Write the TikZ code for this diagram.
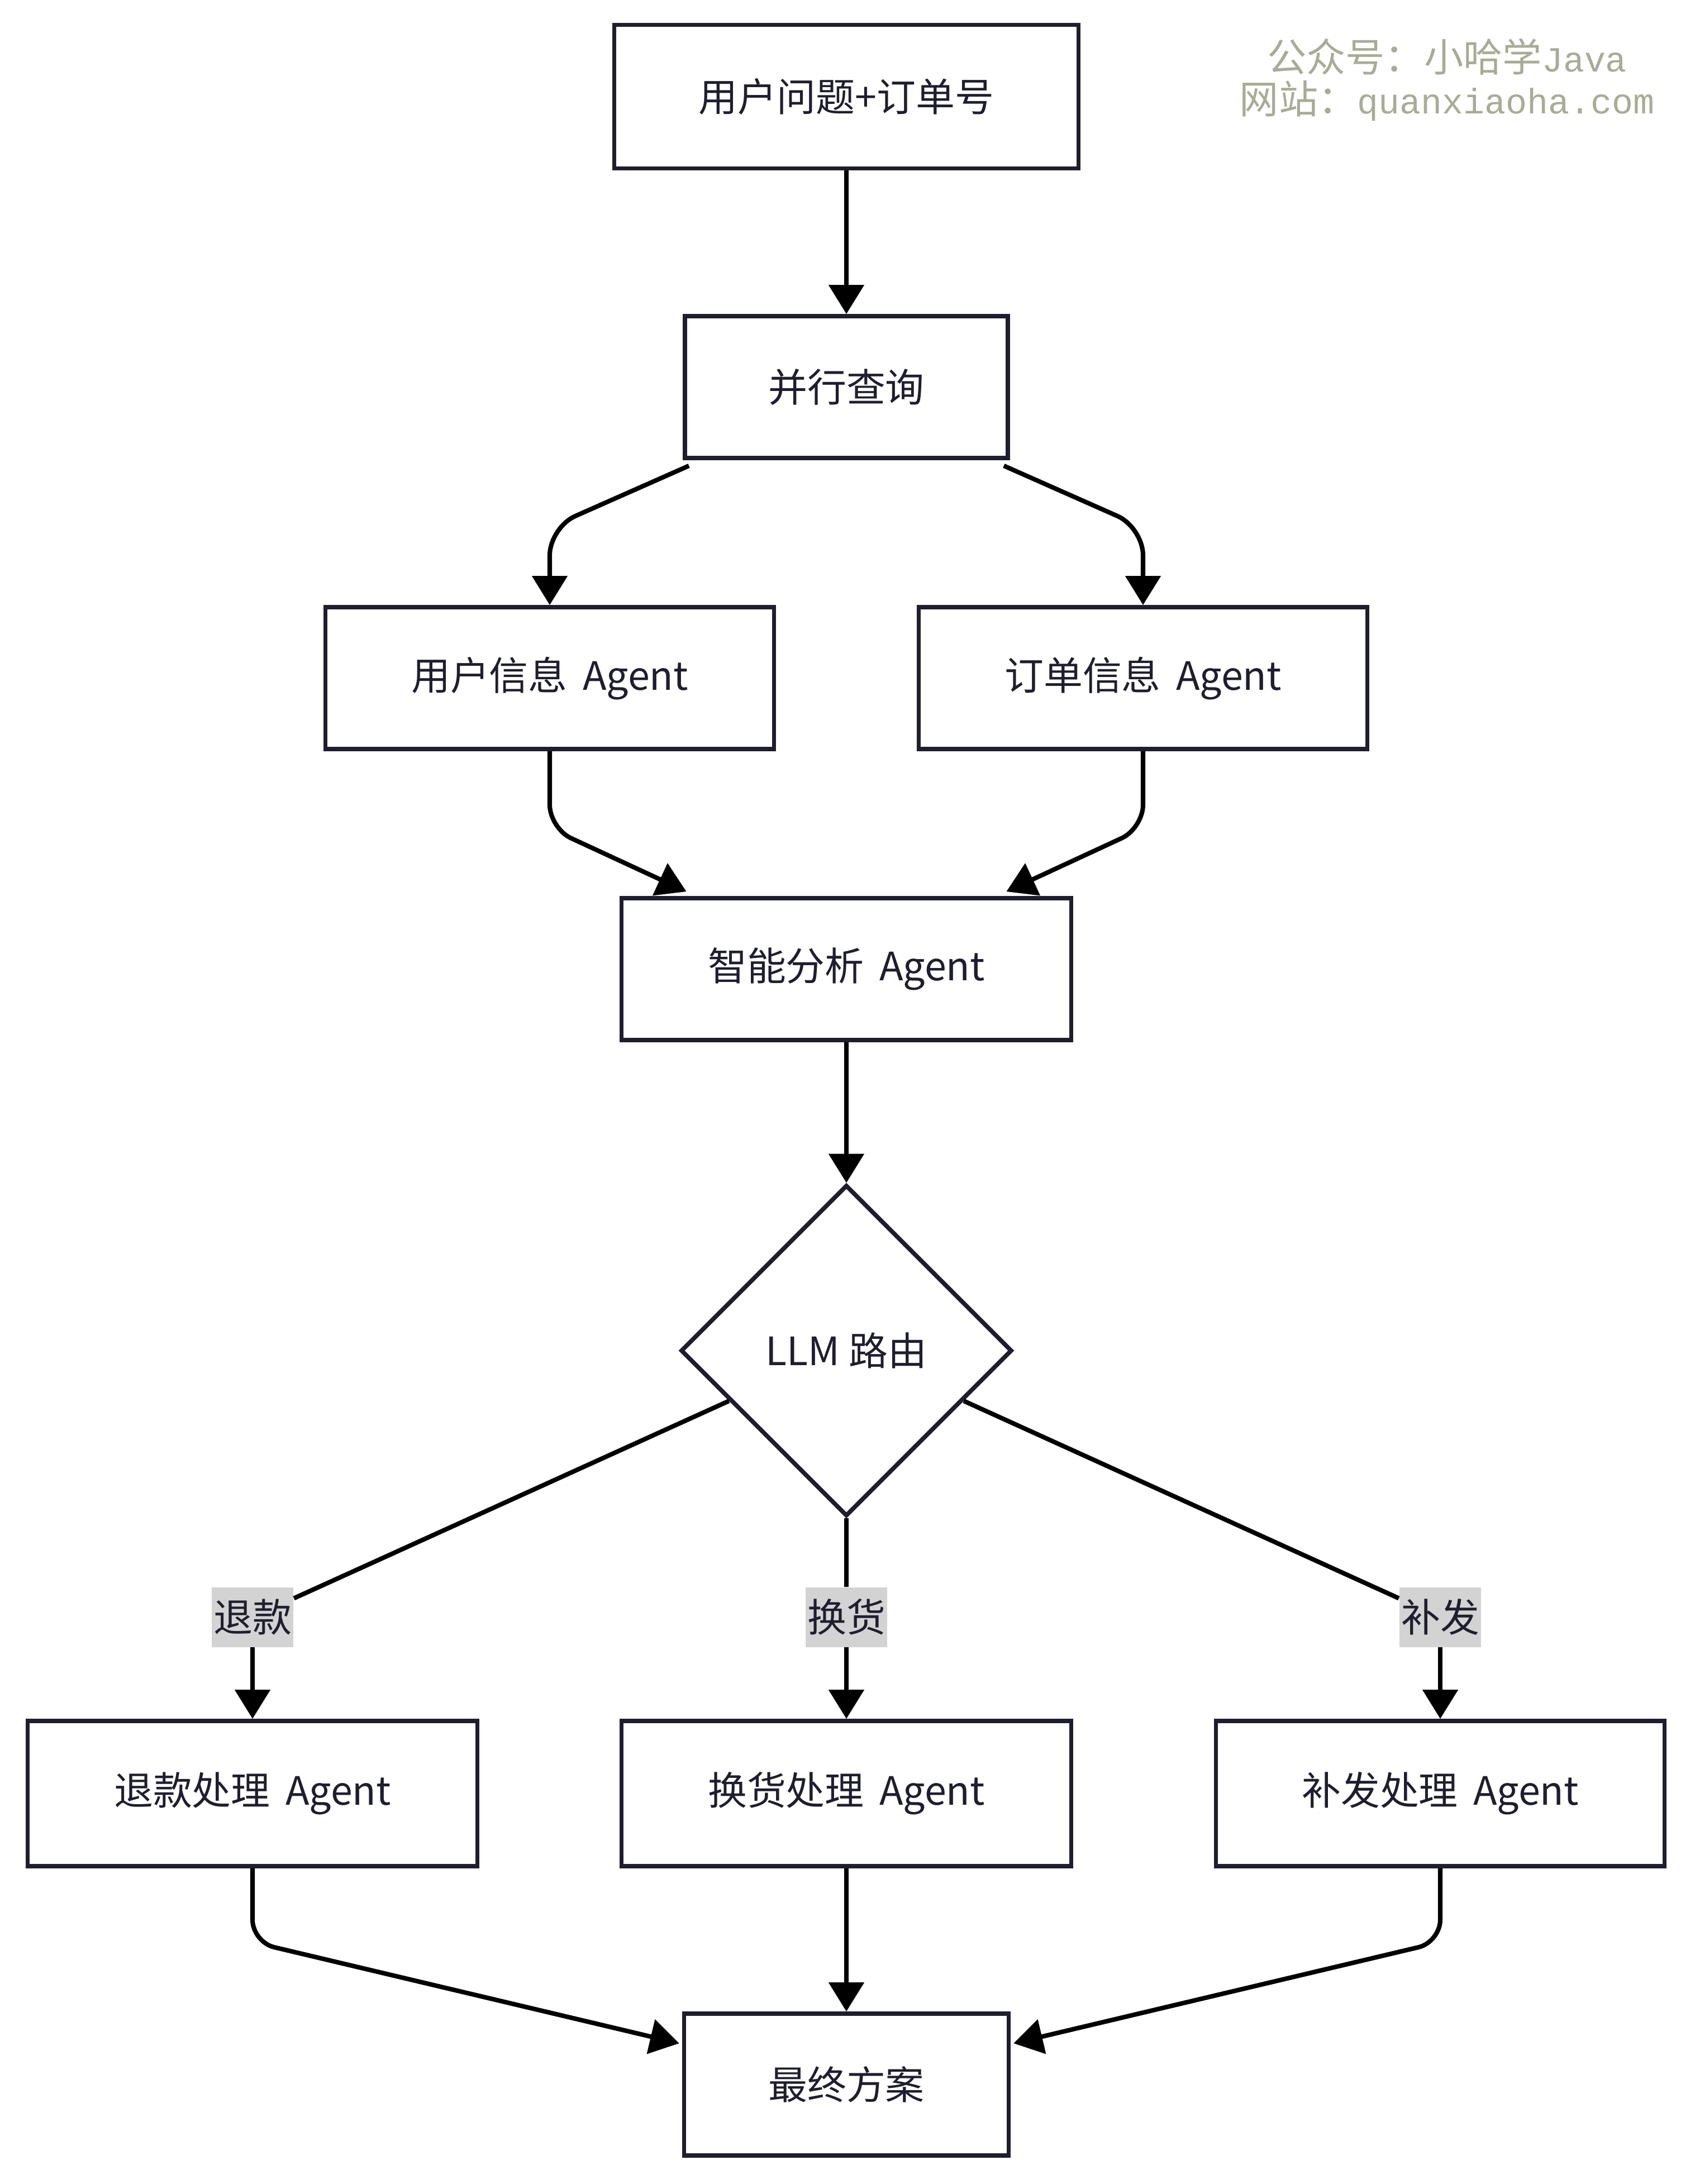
\documentclass[tikz,border=0pt]{standalone}
\usepackage{fontspec}
\setmainfont{Noto Sans CJK SC}
\newfontfamily\wmcjk{Noto Sans CJK SC}
\newfontfamily\wmlat{Liberation Mono}
\usetikzlibrary{arrows.meta,shapes.geometric,calc}

\definecolor{ink}{RGB}{30,30,46}
\definecolor{lblgray}{RGB}{211,211,211}
\definecolor{wmgray}{RGB}{168,172,150}

\begin{document}
\begin{tikzpicture}[
    >={Triangle[width=0.62cm,length=0.52cm]},
    font=\fontsize{19.9pt}{23pt}\selectfont,
    caja/.style={draw=ink, line width=2.2pt, fill=white, text=ink, minimum height=2.54cm, inner sep=0pt},
    rombo/.style={diamond, aspect=1, draw=ink, line width=2.2pt, fill=white, text=ink, minimum width=5.93cm, minimum height=5.93cm, inner sep=0pt},
    rama/.style={fill=lblgray, text=ink, inner xsep=1pt, inner ysep=0pt, minimum height=1.07cm},
    flecha/.style={->, line width=2.3pt, black},
    linea/.style={line width=2.3pt, black}
  ]

    % --- Marco ---
    \useasboundingbox (0,0) rectangle (30.34,-39.10);

    % --- Columnas ---
    \def\xL{4.52}    % rama izquierda
    \def\xM{15.15}   % eje central
    \def\xR{25.78}   % rama derecha

    % --- Marca de agua ---
    \node[wmgray, align=center, inner sep=0pt, font=\wmcjk\fontsize{20pt}{21.3pt}\selectfont] (wm) at (25.9,-1.43)
      {公众号：小哈学{\wmlat\fontsize{18pt}{21.3pt}\selectfont Java}\\
       网站：{\wmlat\fontsize{18pt}{21.3pt}\selectfont quanxiaoha.com}};

    % --- Entrada y consulta ---
    \node[caja, minimum width=8.31cm, minimum height=2.57cm] (query) at (\xM,-1.73) {用户问题+订单号};
    \node[caja, minimum width=5.78cm] (parallel) at (\xM,-6.93) {并行查询};

    \node[caja, minimum width=8.03cm] (userAg) at (9.84,-12.14) {用户信息\ \,Agent};
    \node[caja, minimum width=8.03cm] (orderAg) at (20.46,-12.14) {订单信息\ \,Agent};

    \node[caja, minimum width=8.05cm] (analysis) at (\xM,-17.35) {智能分析\ \,Agent};

    % --- Enrutador ---
    \node[rombo] (router) at (\xM,-24.18) {LLM 路由};

    \node[rama] (refundLbl) at (\xL,-28.95) {退款};
    \node[rama] (exchangeLbl) at (\xM,-28.95) {换货};
    \node[rama] (reshipLbl) at (\xR,-28.95) {补发};

    % --- Agentes de proceso ---
    \node[caja, minimum width=8.05cm, minimum height=2.6cm] (refund) at (\xL,-32.11) {退款处理\ \,Agent};
    \node[caja, minimum width=8.05cm, minimum height=2.6cm] (exchange) at (\xM,-32.11) {换货处理\ \,Agent};
    \node[caja, minimum width=8.03cm, minimum height=2.6cm] (reship) at (\xR,-32.11) {补发处理\ \,Agent};

    \node[caja, minimum width=5.81cm] (final) at (\xM,-37.32) {最终方案};

    % --- Flechas ---
    \draw[flecha] (query.south) -- (parallel.north);

    \draw[flecha, rounded corners=0.5cm] ([shift={(0.11,-0.1)}]parallel.south west)
      -- ($(userAg.north)+(0,1.39)$) -- (userAg.north);
    \draw[flecha, rounded corners=0.5cm] ([shift={(-0.11,-0.1)}]parallel.south east)
      -- ($(orderAg.north)+(0,1.39)$) -- (orderAg.north);

    \draw[flecha, rounded corners=0.42cm] (userAg.south) -- ++(0,-1.38)
      -- ([xshift=1.2cm, yshift=0.08cm]analysis.north west);
    \draw[flecha, rounded corners=0.42cm] (orderAg.south) -- ++(0,-1.38)
      -- ([xshift=-1.2cm, yshift=0.08cm]analysis.north east);

    \draw[flecha] (analysis.south) -- (router.north);

    % ramas del enrutador
    \draw[linea] ($(router.west)!0.3!(router.south)$) -- (refundLbl);
    \draw[linea] (router.south) -- (exchangeLbl);
    \draw[linea] ($(router.east)!0.3!(router.south)$) -- (reshipLbl);
    \draw[flecha] (refundLbl) -- (refund.north);
    \draw[flecha] (exchangeLbl) -- (exchange.north);
    \draw[flecha] (reshipLbl) -- (reship.north);

    % convergencia
    \draw[flecha, rounded corners=0.4cm] (refund.south) -- ++(0,-1.32)
      -- ([xshift=-0.05cm, yshift=-0.57cm]final.north west);
    \draw[flecha] (exchange.south) -- (final.north);
    \draw[flecha, rounded corners=0.4cm] (reship.south) -- ++(0,-1.32)
      -- ([xshift=0.05cm, yshift=-0.57cm]final.north east);

  \end{tikzpicture}
\end{document}
